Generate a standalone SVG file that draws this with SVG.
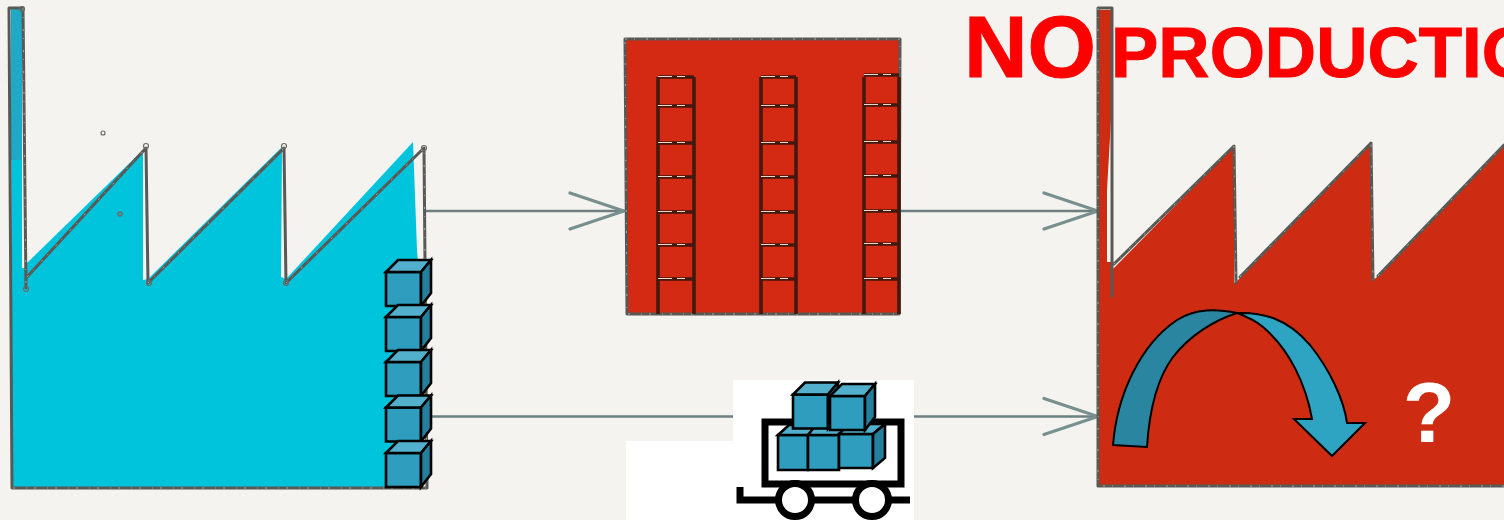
<svg xmlns="http://www.w3.org/2000/svg" width="1504" height="520" viewBox="0 0 1504 520">
<style>
.outline{fill:none;stroke:#585855;stroke-width:3;stroke-linejoin:round;stroke-linecap:round}
.speck{fill:none;stroke:#e8e8e0;stroke-width:.8;stroke-dasharray:2 7 1 11;opacity:.7}
.rack{fill:none;stroke:#43190f;stroke-width:3.600}
.rung{fill:none;stroke:#e9d8cc;stroke-width:1.100;stroke-dasharray:14 5 8 9}
.conn{fill:none;stroke:#6d7f7f;stroke-width:2.400}
.joint{fill:none;stroke:#6b6b66;stroke-width:1.200}
.k{stroke:#000;stroke-linejoin:miter;stroke-width:2.600}
.front{fill:#2f9dbd}.top{fill:#53b0cc}.side{fill:#247f9c}
.cart{fill:none;stroke:#000;stroke-width:7}
.title{font-family:"Liberation Sans",Arial,sans-serif;font-weight:700;fill:#ff0000;stroke:#ff0000;stroke-width:1}
</style>
<defs>
<marker id="barb" markerUnits="userSpaceOnUse" markerWidth="64" markerHeight="46" refX="60" refY="23" orient="auto">
<path d="M6 5L60 23L6 41" fill="none" stroke="#77908e" stroke-width="3.200" stroke-linecap="round"/>
</marker>
<g id="cube">
<path class="front k" d="M0 12H35V46H0Z"/>
<path class="top k" d="M0 12L12 0H45L35 12Z"/>
<path class="side k" d="M35 12L45 0V33L35 46Z"/>
</g>
</defs>
<rect id="paper" width="1504" height="520" fill="#f4f3ef"/>

<g id="connectors">
<path class="conn" d="M426 211H624" marker-end="url(#barb)"/>
<path class="conn" d="M900 211H1098" marker-end="url(#barb)"/>
<path class="conn" d="M431 416.500H1098" marker-end="url(#barb)"/>
</g>

<g id="factory-left">
<path fill="#00c3dc" d="M11 9H22V268H26L27 263L143 150V280L148 279L282 147L281 277L286 279L413 142L417 250L421 300V488H12Z"/>
<rect x="11" y="10" width="11" height="150" fill="#1ea9c6"/>
<path class="outline" d="M9 8H23L26 288M27 277L146 148L148 283L284 148L286 283L424 148L427 488H12L9 8"/>
<path class="speck" d="M23 8L26 288M27 277L146 148M148 283L284 148M286 283L424 148L427 488H12"/>
<g class="joint"><circle cx="26" cy="289" r="2.500"/><circle cx="146" cy="146" r="2.500"/><circle cx="149" cy="283" r="2.500"/><circle cx="284" cy="146" r="2.500"/><circle cx="286" cy="283" r="2.500"/><circle cx="424" cy="148" r="2.500"/><circle cx="22" cy="9" r="2.500"/><circle cx="103" cy="133" r="2"/><circle cx="120" cy="214" r="2.200" fill="#3b9ea6"/></g>
</g>

<g id="stock">
<use href="#cube" x="386" y="260"/>
<use href="#cube" x="386" y="305"/>
<use href="#cube" x="386" y="350"/>
<use href="#cube" x="386" y="395.500"/>
<use href="#cube" x="386" y="441"/>
</g>

<g id="warehouse">
<path fill="#d42a14" d="M625 39H900V314H627Z"/>
<path class="outline" d="M625 39H900L899 314H627Z"/>
<path class="speck" d="M625 39H900L899 314H627Z"/>
<path class="rack" d="M658 77V314M694 77V314M658 77H694M658 106H694M658 143H694M658 177H694M658 212H694M658 245H694M658 279H694"/>
<path class="rung" d="M658 76.500H694M658 105.500H694M658 142.500H694M658 176.500H694M658 211.500H694M658 244.500H694M658 278.500H694"/>
<path class="rack" d="M761 77V314M796 77V314M761 77H796M761 106H796M761 143H796M761 177H796M761 212H796M761 245H796M761 279H796"/>
<path class="rung" d="M761 76.500H796M761 105.500H796M761 142.500H796M761 176.500H796M761 211.500H796M761 244.500H796M761 278.500H796"/>
<path class="rack" d="M864 77V314M899 77V314M864 75H899M864 105H899M864 142H899M864 176H899M864 211H899M864 244H899M864 279H899"/>
<path class="rung" d="M864 74.500H899M864 104.500H899M864 141.500H899M864 175.500H899M864 210.500H899M864 243.500H899M864 278.500H899"/>
</g>

<g id="factory-right">
<path fill="#cd2c12" d="M1103 10H1111V120L1107 190V262H1112V270L1234 146V283L1238 280L1372 143V280L1376 278L1504 145V485H1099V10Z"/>
<path class="outline" d="M1098 8H1112V296M1098 8V486H1504M1114 264L1234 146L1236 283M1240 277L1371 143L1373 280M1378 276L1504 145"/>
<path class="speck" d="M1098 8V486H1504M1114 264L1234 146L1236 283M1240 277L1371 143L1373 280M1378 276L1504 145"/>
</g>

<g id="white-patches">
<rect x="626" y="441" width="108" height="79" fill="#fff"/>
<rect x="733" y="380" width="181" height="140" fill="#fff"/>
</g>

<g id="cart">
<path class="cart" d="M765 484V422H901V484ZM740 487V500H776M814 500H853M891 500H910"/>
<circle class="cart" cx="795" cy="500" r="16.500" style="fill:#fff"/>
<circle class="cart" cx="872" cy="500" r="16.500" style="fill:#fff"/>
<path class="front k" d="M778 435H808V470H778Z"/>
<path class="top k" d="M778 435L789 425H818L808 435Z"/>
<path class="front k" d="M808 435H839V470H808Z"/>
<path class="top k" d="M808 435L816 425H848L839 435Z"/>
<path class="front k" d="M839 434H873V468H839Z"/>
<path class="top k" d="M839 434L849 424H885L873 434Z"/>
<path class="side k" d="M873 434L885 424V458L873 468Z"/>
<use href="#cube" transform="translate(793 382.500)"/>
<use href="#cube" transform="translate(830 384)"/>
</g>

<g id="curved-arrow">
<path fill="#2a86a0" stroke="#000" stroke-width="2" d="M1113 445C1117 395 1140 345 1177 320C1196 308 1217 309 1237 313C1215 320 1190 335 1173 357C1156 380 1149 415 1147 447Z"/>
<path fill="#2ea3c2" stroke="#000" stroke-width="2" d="M1237 313C1262 312 1287 318 1310 345C1330 370 1344 400 1347 423H1365L1332 456L1294 419H1312C1306 385 1290 350 1263 327C1255 320 1245 316 1237 313Z"/>
</g>

<g id="labels">
<text class="title" font-size="88" x="964" y="77">NO</text>
<text class="title" font-size="71" x="1111" y="77">PRODUCTION</text>
<text class="title" font-size="86" style="fill:#fff;stroke:none" x="1429" y="442" text-anchor="middle">?</text>
</g>
</svg>
